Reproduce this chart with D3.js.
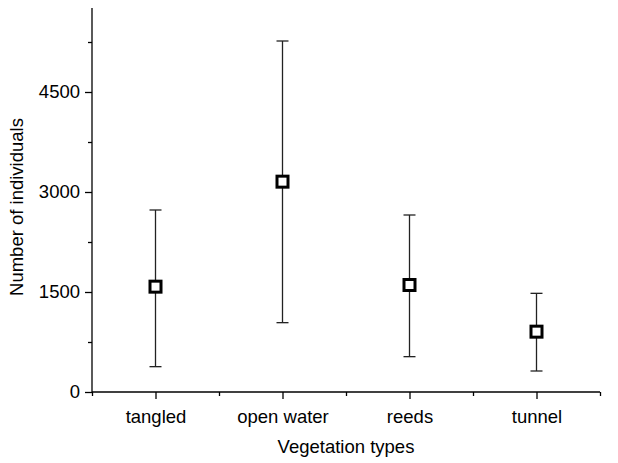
<!DOCTYPE html>
<html>
<head>
<meta charset="utf-8">
<script src="https://cdn.jsdelivr.net/npm/d3@7"></script>
<style>
  body { margin: 0; background: #fff; }
  svg { display: block; }
  .axis path, .axis line { stroke: #000; stroke-width: 1.3; }
  .axis text { font-family: "Liberation Sans", Arial, sans-serif; font-size: 18.5px; fill: #000; }
  .label { font-family: "Liberation Sans", Arial, sans-serif; font-size: 18.5px; fill: #000; }
</style>
</head>
<body>
<div id="chart"></div>
<script>
// vegetation categories and the plotted values (mean with lower / upper bars)
var categories = ["tangled", "open water", "reeds", "tunnel"];
var means = [1580, 3155, 1605, 905];
var lower = [380, 1040, 530, 315];
var upper = [2730, 5265, 2655, 1480];

var yMajorTicks = [0, 1500, 3000, 4500];
var yMinorTicks = [750, 2250, 3750, 5250];

var w = 618, h = 463;
var svg = d3.select("#chart").append("svg")
  .attr("width", w)
  .attr("height", h);

// SCALES
var xScale = d3.scaleLinear()
  .domain([0.5, 4.5])
  .range([92, 600]);

var yScale = d3.scaleLinear()
  .domain([0, 5760])
  .range([392, 8]);

// AXES
var xAxis = d3.axisBottom(xScale)
  .tickValues(d3.range(1, categories.length + 1))
  .tickFormat(function(d) { return categories[d - 1]; })
  .tickSize(7)
  .tickPadding(11);

var xMinor = d3.axisBottom(xScale)
  .tickValues(d3.range(0.5, categories.length + 1, 1))
  .tickFormat("")
  .tickSize(4);

var yAxis = d3.axisLeft(yScale)
  .tickValues(yMajorTicks)
  .tickFormat(d3.format("d"))
  .tickSize(7)
  .tickPadding(5);

var yMinor = d3.axisLeft(yScale)
  .tickValues(yMinorTicks)
  .tickFormat("")
  .tickSize(4);

svg.append("g").attr("class", "axis")
  .attr("transform", "translate(0,392)")
  .call(xMinor)
  .select(".domain").remove();

svg.append("g").attr("class", "axis")
  .attr("transform", "translate(0,392)")
  .call(xAxis)
  .call(function(g) { g.select(".domain").attr("d", "M92,0H600"); });

svg.append("g").attr("class", "axis")
  .attr("transform", "translate(92,0)")
  .call(yMinor)
  .select(".domain").remove();

svg.append("g").attr("class", "axis")
  .attr("transform", "translate(92,0)")
  .call(yAxis)
  .call(function(g) { g.select(".domain").attr("d", "M0,392V8"); });

// AXIS TITLES
svg.append("text")
  .attr("class", "label")
  .attr("x", 346)
  .attr("y", 453)
  .attr("text-anchor", "middle")
  .text("Vegetation types");

svg.append("text")
  .attr("class", "label")
  .attr("transform", "translate(23,207) rotate(-90)")
  .attr("text-anchor", "middle")
  .text("Number of individuals");

// ERROR BARS
var capW = 12;
var bars = svg.append("g").attr("class", "errorbars");
categories.forEach(function(c, i) {
  var x = xScale(i + 1);
  bars.append("line")
    .attr("x1", x).attr("x2", x)
    .attr("y1", yScale(lower[i])).attr("y2", yScale(upper[i]))
    .attr("stroke", "#222").attr("stroke-width", 1.3);
  [lower[i], upper[i]].forEach(function(v) {
    bars.append("line")
      .attr("x1", x - capW / 2).attr("x2", x + capW / 2)
      .attr("y1", yScale(v)).attr("y2", yScale(v))
      .attr("stroke", "#222").attr("stroke-width", 1.3);
  });
});

// MEAN MARKERS
var sq = 11;
svg.append("g").selectAll("rect")
  .data(means)
  .enter().append("rect")
  .attr("x", function(d, i) { return xScale(i + 1) - sq / 2; })
  .attr("y", function(d) { return yScale(d) - sq / 2; })
  .attr("width", sq)
  .attr("height", sq)
  .attr("fill", "#fff")
  .attr("stroke", "#000")
  .attr("stroke-width", 3);
</script>
</body>
</html>
